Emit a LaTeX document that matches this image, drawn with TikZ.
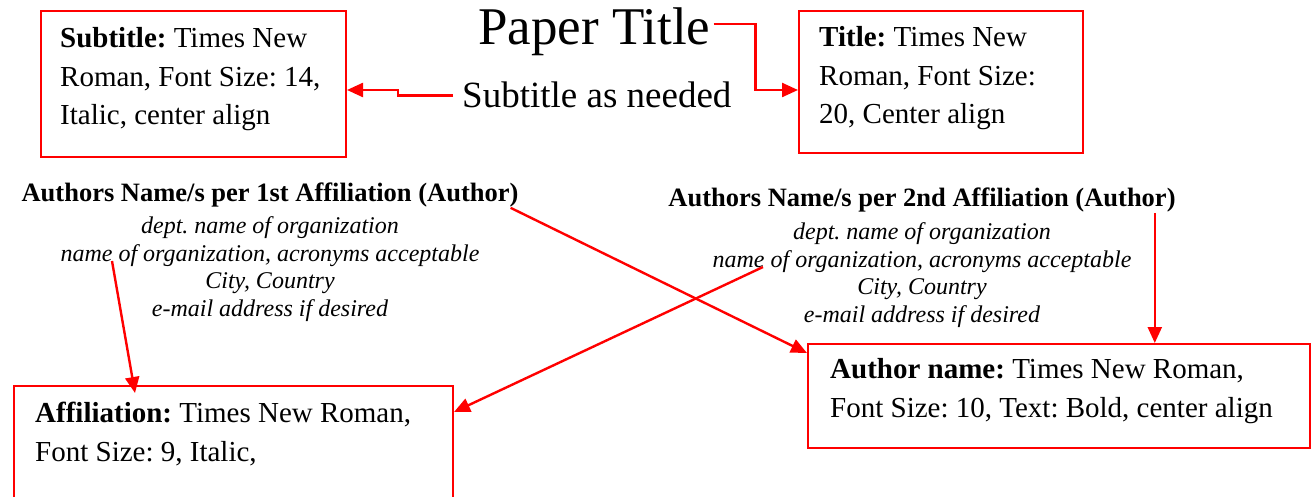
\documentclass[tikz,border=0pt]{standalone}
\usepackage{fontspec}
\setmainfont{Liberation Serif}
\usepackage{xcolor}
\usepackage{tikz}
\usetikzlibrary{arrows.meta}
\definecolor{R0}{HTML}{FF0000}
\frenchspacing
\tikzset{%
  redbox/.style={draw=R0, line width=2pt, inner sep=0pt, anchor=north west},%
  boxtext/.style={inner sep=0pt, anchor=base west, align=left, font=\fontsize{29}{38.5}\selectfont},%
  headtext/.style={inner sep=0pt, anchor=base, font=\bfseries\fontsize{26.5}{30}\selectfont},%
  afftext/.style={inner sep=0pt, anchor=base, align=center, font=\itshape\fontsize{24}{27.5}\selectfont},%
  redarrow/.style={draw=R0, line width=2.4pt, -{Triangle[length=16pt,width=14pt]}},%
}

\begin{document}
\begin{tikzpicture}[x=1pt, y=-1pt]%
\useasboundingbox (0,0) rectangle (1314,497);%
\clip (0,0) rectangle (1314,497);%
% boxes
\node[redbox, minimum width=305pt, minimum height=146pt] (subbox) at (40,10) {};%
\node[redbox, minimum width=284pt, minimum height=142pt] (titlebox) at (798,10) {};%
\node[redbox, minimum width=502pt, minimum height=104pt] (authbox) at (807,343) {};%
\node[redbox, minimum width=439pt, minimum height=140pt] (affbox) at (13,385) {};%
% box texts, placed by their last line
\node[boxtext] (subtxt) at (60,125) {\textbf{Subtitle:} Times New\\Roman, Font Size: 14,\\Italic, center align};%
\node[boxtext] (titletxt) at (819,124) {\textbf{Title:} Times New\\Roman, Font Size:\\20, Center align};%
\node[boxtext] (authtxt) at (830,417) {\textbf{Author name:} Times New Roman,\\Font Size: 10, Text: Bold, center align};%
\node[boxtext] (afftxt) at (35,461) {\textbf{Affiliation:} Times New Roman,\\Font Size: 9, Italic,};%
% title lines
\node[inner sep=0pt, anchor=base west, font=\fontsize{53}{60}\selectfont] (ptitle) at (478,45) {Paper Title};%
\node[inner sep=0pt, anchor=base west, font=\fontsize{37}{42}\selectfont] (subtl) at (462,108) {Subtitle as needed};%
% author blocks
\node[headtext] (auth1) at (270,202) {Authors Name/s per 1st Affiliation (Author)};%
\node[afftext] (aff1) at (270,316) {dept. name of organization\\name of organization, acronyms acceptable\\City, Country\\e-mail address if desired};%
\node[headtext] (auth2) at (922,207) {Authors Name/s per 2nd Affiliation (Author)};%
\node[afftext] (aff2) at (922,322) {dept. name of organization\\name of organization, acronyms acceptable\\City, Country\\e-mail address if desired};%
% arrows
\coordinate (a2s) at ([xshift=-21pt]auth2.south east);%
\coordinate (n1) at (112,261);%
\coordinate (n2) at (763,267);%
\draw[redarrow] ([xshift=-9pt]subtl.west) -- ++(-55,0) |- ([yshift=-6pt]subbox.east);%
\draw[redarrow] ([xshift=3pt, yshift=8pt]ptitle.east) -- ++(42,0) |- ([yshift=-8pt]titlebox.west);%
\draw[redarrow] ([xshift=-8pt]auth1.south east) -- ([yshift=-10pt]authbox.north west);%
\draw[redarrow] (a2s) -- (a2s |- authbox.north);%
\draw[redarrow] (n1) -- ([xshift=122pt, yshift=-8pt]affbox.north west);%
\draw[redarrow] (n2) -- ([yshift=-27pt]affbox.north east);%
\end{tikzpicture}
\end{document}
